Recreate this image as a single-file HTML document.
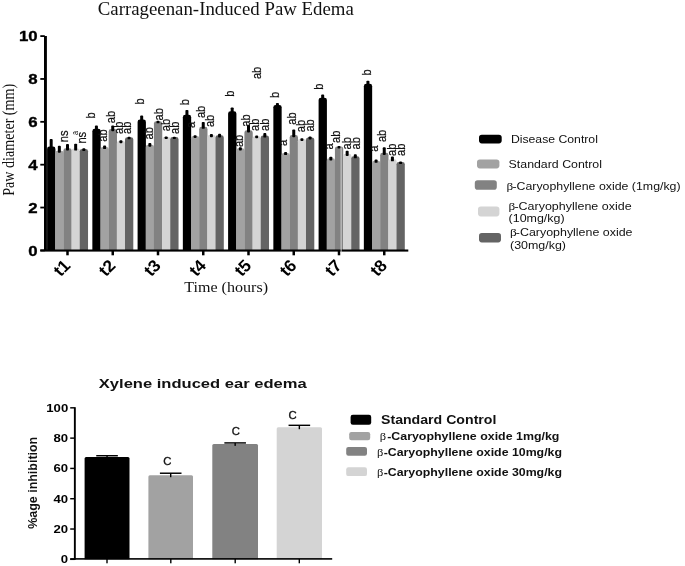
<!DOCTYPE html>
<html><head><meta charset="utf-8"><title>Chart</title>
<style>html,body{margin:0;padding:0;background:#fff;}body{width:685px;height:566px;overflow:hidden;font-family:"Liberation Sans",sans-serif;}</style>
</head><body>
<svg width="685" height="566" viewBox="0 0 685 566" style="display:block;filter:blur(0.45px)">
<rect x="0.00" y="0.00" width="685.00" height="566.00" fill="#fff"/>
<path d="M47.10 250.10 V148.99 Q47.10 146.59 49.50 146.59 H53.01 Q55.41 146.59 55.41 148.99 V250.10 Z" fill="#000000"/>
<path d="M55.26 250.10 V153.05 Q55.26 150.65 57.66 150.65 H61.17 Q63.57 150.65 63.57 153.05 V250.10 Z" fill="#a2a2a2"/>
<path d="M63.42 250.10 V150.70 Q63.42 148.30 65.82 148.30 H69.33 Q71.73 148.30 71.73 150.70 V250.10 Z" fill="#828282"/>
<path d="M71.58 250.10 V150.91 Q71.58 148.51 73.98 148.51 H77.49 Q79.89 148.51 79.89 150.91 V250.10 Z" fill="#d4d4d4"/>
<path d="M79.74 250.10 V151.34 Q79.74 148.94 82.14 148.94 H85.65 Q88.05 148.94 88.05 151.34 V250.10 Z" fill="#646464"/>
<rect x="49.68" y="138.99" width="3.00" height="9.70" rx="0.9" fill="#000"/>
<rect x="57.84" y="145.83" width="3.00" height="6.92" rx="0.9" fill="#000"/>
<rect x="66.00" y="144.12" width="3.00" height="6.28" rx="0.9" fill="#000"/>
<rect x="74.16" y="143.69" width="3.00" height="6.92" rx="0.9" fill="#000"/>
<rect x="82.32" y="148.17" width="3.00" height="2.87" rx="0.9" fill="#000"/>
<path d="M92.35 250.10 V131.27 Q92.35 128.87 94.75 128.87 H98.26 Q100.66 128.87 100.66 131.27 V250.10 Z" fill="#000000"/>
<path d="M100.51 250.10 V149.42 Q100.51 147.02 102.91 147.02 H106.42 Q108.82 147.02 108.82 149.42 V250.10 Z" fill="#a2a2a2"/>
<path d="M108.67 250.10 V131.49 Q108.67 129.09 111.07 129.09 H114.58 Q116.98 129.09 116.98 131.49 V250.10 Z" fill="#828282"/>
<path d="M116.83 250.10 V143.44 Q116.83 141.04 119.23 141.04 H122.74 Q125.14 141.04 125.14 143.44 V250.10 Z" fill="#d4d4d4"/>
<path d="M124.99 250.10 V139.60 Q124.99 137.20 127.39 137.20 H130.90 Q133.30 137.20 133.30 139.60 V250.10 Z" fill="#646464"/>
<rect x="94.93" y="125.54" width="3.00" height="5.43" rx="0.9" fill="#000"/>
<rect x="103.09" y="145.61" width="3.00" height="3.51" rx="0.9" fill="#000"/>
<rect x="111.25" y="125.54" width="3.00" height="5.64" rx="0.9" fill="#000"/>
<rect x="119.41" y="140.27" width="3.00" height="2.87" rx="0.9" fill="#000"/>
<rect x="127.57" y="136.86" width="3.00" height="2.44" rx="0.9" fill="#000"/>
<path d="M137.60 250.10 V121.88 Q137.60 119.48 140.00 119.48 H143.51 Q145.91 119.48 145.91 121.88 V250.10 Z" fill="#000000"/>
<path d="M145.76 250.10 V147.07 Q145.76 144.67 148.16 144.67 H151.67 Q154.07 144.67 154.07 147.07 V250.10 Z" fill="#a2a2a2"/>
<path d="M153.92 250.10 V123.59 Q153.92 121.19 156.32 121.19 H159.83 Q162.23 121.19 162.23 123.59 V250.10 Z" fill="#828282"/>
<path d="M162.08 250.10 V139.39 Q162.08 136.99 164.48 136.99 H167.99 Q170.39 136.99 170.39 139.39 V250.10 Z" fill="#d4d4d4"/>
<path d="M170.24 250.10 V139.39 Q170.24 136.99 172.64 136.99 H176.15 Q178.55 136.99 178.55 139.39 V250.10 Z" fill="#646464"/>
<rect x="140.18" y="115.51" width="3.00" height="6.07" rx="0.9" fill="#000"/>
<rect x="148.34" y="143.05" width="3.00" height="3.72" rx="0.9" fill="#000"/>
<rect x="156.50" y="120.85" width="3.00" height="2.44" rx="0.9" fill="#000"/>
<rect x="164.66" y="136.43" width="3.00" height="2.65" rx="0.9" fill="#000"/>
<rect x="172.82" y="136.64" width="3.00" height="2.44" rx="0.9" fill="#000"/>
<path d="M182.85 250.10 V117.18 Q182.85 114.78 185.25 114.78 H188.76 Q191.16 114.78 191.16 117.18 V250.10 Z" fill="#000000"/>
<path d="M191.01 250.10 V138.32 Q191.01 135.92 193.41 135.92 H196.92 Q199.32 135.92 199.32 138.32 V250.10 Z" fill="#a2a2a2"/>
<path d="M199.17 250.10 V129.14 Q199.17 126.74 201.57 126.74 H205.08 Q207.48 126.74 207.48 129.14 V250.10 Z" fill="#828282"/>
<path d="M207.33 250.10 V137.46 Q207.33 135.06 209.73 135.06 H213.24 Q215.64 135.06 215.64 137.46 V250.10 Z" fill="#d4d4d4"/>
<path d="M215.49 250.10 V137.68 Q215.49 135.28 217.89 135.28 H221.40 Q223.80 135.28 223.80 137.68 V250.10 Z" fill="#646464"/>
<rect x="185.43" y="109.96" width="3.00" height="6.92" rx="0.9" fill="#000"/>
<rect x="193.59" y="135.15" width="3.00" height="2.87" rx="0.9" fill="#000"/>
<rect x="201.75" y="121.91" width="3.00" height="6.92" rx="0.9" fill="#000"/>
<rect x="209.91" y="134.08" width="3.00" height="3.08" rx="0.9" fill="#000"/>
<rect x="218.07" y="133.87" width="3.00" height="3.51" rx="0.9" fill="#000"/>
<path d="M228.10 250.10 V113.77 Q228.10 111.37 230.50 111.37 H234.01 Q236.41 111.37 236.41 113.77 V250.10 Z" fill="#000000"/>
<path d="M236.26 250.10 V150.70 Q236.26 148.30 238.66 148.30 H242.17 Q244.57 148.30 244.57 150.70 V250.10 Z" fill="#a2a2a2"/>
<path d="M244.42 250.10 V132.77 Q244.42 130.37 246.82 130.37 H250.33 Q252.73 130.37 252.73 132.77 V250.10 Z" fill="#828282"/>
<path d="M252.58 250.10 V138.53 Q252.58 136.13 254.98 136.13 H258.49 Q260.89 136.13 260.89 138.53 V250.10 Z" fill="#d4d4d4"/>
<path d="M260.74 250.10 V137.89 Q260.74 135.49 263.14 135.49 H266.65 Q269.05 135.49 269.05 137.89 V250.10 Z" fill="#646464"/>
<rect x="230.68" y="107.40" width="3.00" height="6.07" rx="0.9" fill="#000"/>
<rect x="238.84" y="147.32" width="3.00" height="3.08" rx="0.9" fill="#000"/>
<rect x="247.00" y="124.69" width="3.00" height="7.78" rx="0.9" fill="#000"/>
<rect x="255.16" y="135.58" width="3.00" height="2.65" rx="0.9" fill="#000"/>
<rect x="263.32" y="133.02" width="3.00" height="4.58" rx="0.9" fill="#000"/>
<path d="M273.35 250.10 V107.36 Q273.35 104.96 275.75 104.96 H279.26 Q281.66 104.96 281.66 107.36 V250.10 Z" fill="#000000"/>
<path d="M281.51 250.10 V155.40 Q281.51 153.00 283.91 153.00 H287.42 Q289.82 153.00 289.82 155.40 V250.10 Z" fill="#a2a2a2"/>
<path d="M289.67 250.10 V137.46 Q289.67 135.06 292.07 135.06 H295.58 Q297.98 135.06 297.98 137.46 V250.10 Z" fill="#828282"/>
<path d="M297.83 250.10 V141.31 Q297.83 138.91 300.23 138.91 H303.74 Q306.14 138.91 306.14 141.31 V250.10 Z" fill="#d4d4d4"/>
<path d="M305.99 250.10 V139.81 Q305.99 137.41 308.39 137.41 H311.90 Q314.30 137.41 314.30 139.81 V250.10 Z" fill="#646464"/>
<rect x="275.93" y="102.91" width="3.00" height="4.15" rx="0.9" fill="#000"/>
<rect x="284.09" y="152.02" width="3.00" height="3.08" rx="0.9" fill="#000"/>
<rect x="292.25" y="129.60" width="3.00" height="7.56" rx="0.9" fill="#000"/>
<rect x="300.41" y="138.14" width="3.00" height="2.87" rx="0.9" fill="#000"/>
<rect x="308.57" y="136.43" width="3.00" height="3.08" rx="0.9" fill="#000"/>
<path d="M318.60 250.10 V100.10 Q318.60 97.70 321.00 97.70 H324.51 Q326.91 97.70 326.91 100.10 V250.10 Z" fill="#000000"/>
<path d="M326.76 250.10 V160.74 Q326.76 158.34 329.16 158.34 H332.67 Q335.07 158.34 335.07 160.74 V250.10 Z" fill="#a2a2a2"/>
<path d="M334.92 250.10 V148.78 Q334.92 146.38 337.32 146.38 H340.83 Q343.23 146.38 343.23 148.78 V250.10 Z" fill="#828282"/>
<path d="M343.08 250.10 V156.25 Q343.08 153.85 345.48 153.85 H348.99 Q351.39 153.85 351.39 156.25 V250.10 Z" fill="#d4d4d4"/>
<path d="M351.24 250.10 V158.60 Q351.24 156.20 353.64 156.20 H357.15 Q359.55 156.20 359.55 158.60 V250.10 Z" fill="#646464"/>
<rect x="321.18" y="94.59" width="3.00" height="5.22" rx="0.9" fill="#000"/>
<rect x="329.34" y="156.71" width="3.00" height="3.72" rx="0.9" fill="#000"/>
<rect x="337.50" y="146.04" width="3.00" height="2.44" rx="0.9" fill="#000"/>
<rect x="345.66" y="150.74" width="3.00" height="5.22" rx="0.9" fill="#000"/>
<rect x="353.82" y="154.15" width="3.00" height="4.15" rx="0.9" fill="#000"/>
<path d="M363.85 250.10 V86.22 Q363.85 83.82 366.25 83.82 H369.76 Q372.16 83.82 372.16 86.22 V250.10 Z" fill="#000000"/>
<path d="M372.01 250.10 V163.08 Q372.01 160.68 374.41 160.68 H377.92 Q380.32 160.68 380.32 163.08 V250.10 Z" fill="#a2a2a2"/>
<path d="M380.17 250.10 V155.18 Q380.17 152.78 382.57 152.78 H386.08 Q388.48 152.78 388.48 155.18 V250.10 Z" fill="#828282"/>
<path d="M388.33 250.10 V161.59 Q388.33 159.19 390.73 159.19 H394.24 Q396.64 159.19 396.64 161.59 V250.10 Z" fill="#d4d4d4"/>
<path d="M396.49 250.10 V164.37 Q396.49 161.97 398.89 161.97 H402.40 Q404.80 161.97 404.80 164.37 V250.10 Z" fill="#646464"/>
<rect x="366.43" y="80.71" width="3.00" height="5.22" rx="0.9" fill="#000"/>
<rect x="374.59" y="159.49" width="3.00" height="3.29" rx="0.9" fill="#000"/>
<rect x="382.75" y="147.32" width="3.00" height="7.56" rx="0.9" fill="#000"/>
<rect x="390.91" y="156.50" width="3.00" height="4.79" rx="0.9" fill="#000"/>
<rect x="399.07" y="161.62" width="3.00" height="2.44" rx="0.9" fill="#000"/>
<rect x="44.00" y="36.00" width="2.90" height="215.00" fill="#000"/>
<rect x="40.30" y="249.50" width="368.00" height="2.10" fill="#000"/>
<rect x="40.30" y="249.50" width="4.50" height="1.80" fill="#000"/>
<text transform="translate(37.7,255.50) scale(1.12,1)" font-family="Liberation Sans" font-size="15" font-weight="bold" text-anchor="end" fill="#000" stroke="#000" stroke-width="0.35">0</text>
<rect x="40.30" y="206.64" width="4.50" height="1.80" fill="#000"/>
<text transform="translate(37.7,212.64) scale(1.12,1)" font-family="Liberation Sans" font-size="15" font-weight="bold" text-anchor="end" fill="#000" stroke="#000" stroke-width="0.35">2</text>
<rect x="40.30" y="163.78" width="4.50" height="1.80" fill="#000"/>
<text transform="translate(37.7,169.78) scale(1.12,1)" font-family="Liberation Sans" font-size="15" font-weight="bold" text-anchor="end" fill="#000" stroke="#000" stroke-width="0.35">4</text>
<rect x="40.30" y="120.92" width="4.50" height="1.80" fill="#000"/>
<text transform="translate(37.7,126.92) scale(1.12,1)" font-family="Liberation Sans" font-size="15" font-weight="bold" text-anchor="end" fill="#000" stroke="#000" stroke-width="0.35">6</text>
<rect x="40.30" y="78.06" width="4.50" height="1.80" fill="#000"/>
<text transform="translate(37.7,84.06) scale(1.12,1)" font-family="Liberation Sans" font-size="15" font-weight="bold" text-anchor="end" fill="#000" stroke="#000" stroke-width="0.35">8</text>
<rect x="40.30" y="35.20" width="4.50" height="1.80" fill="#000"/>
<text transform="translate(37.7,41.20) scale(1.12,1)" font-family="Liberation Sans" font-size="15" font-weight="bold" text-anchor="end" fill="#000" stroke="#000" stroke-width="0.35">10</text>
<rect x="66.25" y="250.00" width="2.50" height="5.30" fill="#000"/>
<text transform="translate(71.4,266.6) scale(1.04,1) rotate(-45)" font-family="Liberation Sans" font-size="16.8" font-weight="bold" text-anchor="end" fill="#000">t1</text>
<rect x="111.50" y="250.00" width="2.50" height="5.30" fill="#000"/>
<text transform="translate(116.65,266.6) scale(1.04,1) rotate(-45)" font-family="Liberation Sans" font-size="16.8" font-weight="bold" text-anchor="end" fill="#000">t2</text>
<rect x="156.75" y="250.00" width="2.50" height="5.30" fill="#000"/>
<text transform="translate(161.9,266.6) scale(1.04,1) rotate(-45)" font-family="Liberation Sans" font-size="16.8" font-weight="bold" text-anchor="end" fill="#000">t3</text>
<rect x="202.00" y="250.00" width="2.50" height="5.30" fill="#000"/>
<text transform="translate(207.15,266.6) scale(1.04,1) rotate(-45)" font-family="Liberation Sans" font-size="16.8" font-weight="bold" text-anchor="end" fill="#000">t4</text>
<rect x="247.25" y="250.00" width="2.50" height="5.30" fill="#000"/>
<text transform="translate(252.4,266.6) scale(1.04,1) rotate(-45)" font-family="Liberation Sans" font-size="16.8" font-weight="bold" text-anchor="end" fill="#000">t5</text>
<rect x="292.50" y="250.00" width="2.50" height="5.30" fill="#000"/>
<text transform="translate(297.65,266.6) scale(1.04,1) rotate(-45)" font-family="Liberation Sans" font-size="16.8" font-weight="bold" text-anchor="end" fill="#000">t6</text>
<rect x="337.75" y="250.00" width="2.50" height="5.30" fill="#000"/>
<text transform="translate(342.9,266.6) scale(1.04,1) rotate(-45)" font-family="Liberation Sans" font-size="16.8" font-weight="bold" text-anchor="end" fill="#000">t7</text>
<rect x="383.00" y="250.00" width="2.50" height="5.30" fill="#000"/>
<text transform="translate(388.15,266.6) scale(1.04,1) rotate(-45)" font-family="Liberation Sans" font-size="16.8" font-weight="bold" text-anchor="end" fill="#000">t8</text>
<rect x="340.70" y="147.50" width="0.80" height="105.50" fill="#e6e6e6"/>
<text x="97.8" y="15.3" font-family="Liberation Serif" font-size="19.3" textLength="256" lengthAdjust="spacingAndGlyphs" fill="#111">Carrageenan-Induced Paw Edema</text>
<text x="184.2" y="292.2" font-family="Liberation Serif" font-size="15.3" textLength="83.8" lengthAdjust="spacingAndGlyphs" fill="#111">Time (hours)</text>
<text transform="translate(14.2,195.8) scale(1.0,1) rotate(-90)" font-family="Liberation Serif" font-size="16.5" textLength="112" lengthAdjust="spacingAndGlyphs" fill="#111">Paw diameter (mm)</text>
<text transform="translate(68.0,142.2) scale(1.18,1) rotate(-90)" font-family="Liberation Sans" font-size="11.2" fill="#111" stroke="#111" stroke-width="0.2">ns</text>
<text transform="translate(86.2,143.6) scale(1.18,1) rotate(-90)" font-family="Liberation Sans" font-size="11.2" fill="#111" stroke="#111" stroke-width="0.2">ns</text>
<text transform="translate(94.8,118.5) scale(1.18,1) rotate(-90)" font-family="Liberation Sans" font-size="11.2" fill="#111" stroke="#111" stroke-width="0.2">b</text>
<text transform="translate(107,141.7) scale(1.18,1) rotate(-90)" font-family="Liberation Sans" font-size="11.2" fill="#111" stroke="#111" stroke-width="0.2">ab</text>
<text transform="translate(115,123.3) scale(1.18,1) rotate(-90)" font-family="Liberation Sans" font-size="11.2" fill="#111" stroke="#111" stroke-width="0.2">ab</text>
<text transform="translate(123.2,133.9) scale(1.18,1) rotate(-90)" font-family="Liberation Sans" font-size="11.2" fill="#111" stroke="#111" stroke-width="0.2">ab</text>
<text transform="translate(131.2,133.9) scale(1.18,1) rotate(-90)" font-family="Liberation Sans" font-size="11.2" fill="#111" stroke="#111" stroke-width="0.2">ab</text>
<text transform="translate(144.3,104.5) scale(1.18,1) rotate(-90)" font-family="Liberation Sans" font-size="11.2" fill="#111" stroke="#111" stroke-width="0.2">b</text>
<text transform="translate(152.5,139.5) scale(1.18,1) rotate(-90)" font-family="Liberation Sans" font-size="11.2" fill="#111" stroke="#111" stroke-width="0.2">ab</text>
<text transform="translate(162.6,120.4) scale(1.18,1) rotate(-90)" font-family="Liberation Sans" font-size="11.2" fill="#111" stroke="#111" stroke-width="0.2">ab</text>
<text transform="translate(170,131.3) scale(1.18,1) rotate(-90)" font-family="Liberation Sans" font-size="11.2" fill="#111" stroke="#111" stroke-width="0.2">ab</text>
<text transform="translate(178.5,134.0) scale(1.18,1) rotate(-90)" font-family="Liberation Sans" font-size="11.2" fill="#111" stroke="#111" stroke-width="0.2">ab</text>
<text transform="translate(189.1,105.3) scale(1.18,1) rotate(-90)" font-family="Liberation Sans" font-size="11.2" fill="#111" stroke="#111" stroke-width="0.2">b</text>
<text transform="translate(195.4,128.1) scale(1.18,1) rotate(-90)" font-family="Liberation Sans" font-size="11.2" fill="#111" stroke="#111" stroke-width="0.2">a</text>
<text transform="translate(204.7,118.1) scale(1.18,1) rotate(-90)" font-family="Liberation Sans" font-size="11.2" fill="#111" stroke="#111" stroke-width="0.2">ab</text>
<text transform="translate(213.5,127.1) scale(1.18,1) rotate(-90)" font-family="Liberation Sans" font-size="11.2" fill="#111" stroke="#111" stroke-width="0.2">ab</text>
<text transform="translate(234,96.7) scale(1.18,1) rotate(-90)" font-family="Liberation Sans" font-size="11.2" fill="#111" stroke="#111" stroke-width="0.2">b</text>
<text transform="translate(261.2,79.1) scale(1.18,1) rotate(-90)" font-family="Liberation Sans" font-size="11.2" fill="#111" stroke="#111" stroke-width="0.2">ab</text>
<text transform="translate(243,147.1) scale(1.18,1) rotate(-90)" font-family="Liberation Sans" font-size="11.2" fill="#111" stroke="#111" stroke-width="0.2">ab</text>
<text transform="translate(249.5,126.7) scale(1.18,1) rotate(-90)" font-family="Liberation Sans" font-size="11.2" fill="#111" stroke="#111" stroke-width="0.2">ab</text>
<text transform="translate(258.6,131.0) scale(1.18,1) rotate(-90)" font-family="Liberation Sans" font-size="11.2" fill="#111" stroke="#111" stroke-width="0.2">ab</text>
<text transform="translate(268.5,131.0) scale(1.18,1) rotate(-90)" font-family="Liberation Sans" font-size="11.2" fill="#111" stroke="#111" stroke-width="0.2">ab</text>
<text transform="translate(279.2,98.0) scale(1.18,1) rotate(-90)" font-family="Liberation Sans" font-size="11.2" fill="#111" stroke="#111" stroke-width="0.2">b</text>
<text transform="translate(287.2,146.1) scale(1.18,1) rotate(-90)" font-family="Liberation Sans" font-size="11.2" fill="#111" stroke="#111" stroke-width="0.2">a</text>
<text transform="translate(295.5,124.7) scale(1.18,1) rotate(-90)" font-family="Liberation Sans" font-size="11.2" fill="#111" stroke="#111" stroke-width="0.2">ab</text>
<text transform="translate(304.5,132.2) scale(1.18,1) rotate(-90)" font-family="Liberation Sans" font-size="11.2" fill="#111" stroke="#111" stroke-width="0.2">ab</text>
<text transform="translate(314.2,131.6) scale(1.18,1) rotate(-90)" font-family="Liberation Sans" font-size="11.2" fill="#111" stroke="#111" stroke-width="0.2">ab</text>
<text transform="translate(323.3,89.7) scale(1.18,1) rotate(-90)" font-family="Liberation Sans" font-size="11.2" fill="#111" stroke="#111" stroke-width="0.2">b</text>
<text transform="translate(333,149.4) scale(1.18,1) rotate(-90)" font-family="Liberation Sans" font-size="11.2" fill="#111" stroke="#111" stroke-width="0.2">a</text>
<text transform="translate(340,143.0) scale(1.18,1) rotate(-90)" font-family="Liberation Sans" font-size="11.2" fill="#111" stroke="#111" stroke-width="0.2">ab</text>
<text transform="translate(351,149.4) scale(1.18,1) rotate(-90)" font-family="Liberation Sans" font-size="11.2" fill="#111" stroke="#111" stroke-width="0.2">ab</text>
<text transform="translate(360,149.4) scale(1.18,1) rotate(-90)" font-family="Liberation Sans" font-size="11.2" fill="#111" stroke="#111" stroke-width="0.2">ab</text>
<text transform="translate(370.8,75.5) scale(1.18,1) rotate(-90)" font-family="Liberation Sans" font-size="11.2" fill="#111" stroke="#111" stroke-width="0.2">b</text>
<text transform="translate(378.4,151.7) scale(1.18,1) rotate(-90)" font-family="Liberation Sans" font-size="11.2" fill="#111" stroke="#111" stroke-width="0.2">a</text>
<text transform="translate(385.8,142.1) scale(1.18,1) rotate(-90)" font-family="Liberation Sans" font-size="11.2" fill="#111" stroke="#111" stroke-width="0.2">ab</text>
<text transform="translate(395.5,155.9) scale(1.18,1) rotate(-90)" font-family="Liberation Sans" font-size="11.2" fill="#111" stroke="#111" stroke-width="0.2">ab</text>
<text transform="translate(405.3,155.9) scale(1.18,1) rotate(-90)" font-family="Liberation Sans" font-size="11.2" fill="#111" stroke="#111" stroke-width="0.2">ab</text>
<text transform="translate(78.0,134.9) scale(1.18,1) rotate(-90)" font-family="Liberation Sans" font-size="7.2" fill="#111">a</text>
<rect x="479.00" y="134.80" width="22.70" height="8.60" rx="2.8" fill="#000000"/>
<rect x="477.00" y="159.50" width="22.40" height="8.90" rx="2.8" fill="#a2a2a2"/>
<rect x="474.80" y="180.20" width="22.00" height="9.50" rx="2.8" fill="#828282"/>
<rect x="478.00" y="206.40" width="21.40" height="10.00" rx="2.8" fill="#d4d4d4"/>
<rect x="479.00" y="233.00" width="22.00" height="9.40" rx="2.8" fill="#646464"/>
<text x="510.9" y="143" font-family="Liberation Sans" font-size="11.4" textLength="87" lengthAdjust="spacingAndGlyphs" fill="#111">Disease Control</text>
<text x="508.6" y="168.3" font-family="Liberation Sans" font-size="11.4" textLength="93.4" lengthAdjust="spacingAndGlyphs" fill="#111">Standard Control</text>
<text transform="translate(506.6,189.6) scale(1.3,1)" font-family="Liberation Serif" font-size="10.2" fill="#111">β</text>
<text x="512.4" y="189.6" font-family="Liberation Sans" font-size="11.4" textLength="168.2" lengthAdjust="spacingAndGlyphs" fill="#111">-Caryophyllene oxide (1mg/kg)</text>
<text transform="translate(508.6,209.5) scale(1.3,1)" font-family="Liberation Serif" font-size="10.2" fill="#111">β</text>
<text x="514.4" y="209.5" font-family="Liberation Sans" font-size="11.4" textLength="117.2" lengthAdjust="spacingAndGlyphs" fill="#111">-Caryophyllene oxide</text>
<text x="508.6" y="221.9" font-family="Liberation Sans" font-size="11.4" textLength="56" lengthAdjust="spacingAndGlyphs" fill="#111">(10mg/kg)</text>
<text transform="translate(510,236.0) scale(1.3,1)" font-family="Liberation Serif" font-size="10.2" fill="#111">β</text>
<text x="515.8" y="236.0" font-family="Liberation Sans" font-size="11.4" textLength="116.7" lengthAdjust="spacingAndGlyphs" fill="#111">-Caryophyllene oxide</text>
<text x="510" y="248.7" font-family="Liberation Sans" font-size="11.4" textLength="56" lengthAdjust="spacingAndGlyphs" fill="#111">(30mg/kg)</text>
<path d="M84.60 559.30 V458.40 Q84.60 456.90 86.10 456.90 H128.00 Q129.50 456.90 129.50 458.40 V559.30 Z" fill="#000000"/>
<rect x="106.35" y="455.70" width="1.40" height="3.20" fill="#000"/>
<rect x="96.25" y="455.00" width="21.60" height="1.45" fill="#000"/>
<path d="M148.40 559.30 V476.70 Q148.40 475.20 149.90 475.20 H191.50 Q193.00 475.20 193.00 476.70 V559.30 Z" fill="#a2a2a2"/>
<rect x="170.00" y="473.20" width="1.40" height="4.00" fill="#000"/>
<rect x="159.90" y="472.50" width="21.60" height="1.45" fill="#000"/>
<path d="M212.30 559.30 V445.40 Q212.30 443.90 213.80 443.90 H256.50 Q258.00 443.90 258.00 445.40 V559.30 Z" fill="#828282"/>
<rect x="234.45" y="442.90" width="1.40" height="3.00" fill="#000"/>
<rect x="224.35" y="442.20" width="21.60" height="1.45" fill="#000"/>
<path d="M276.70 559.30 V428.70 Q276.70 427.20 278.20 427.20 H320.50 Q322.00 427.20 322.00 428.70 V559.30 Z" fill="#d4d4d4"/>
<rect x="298.65" y="425.30" width="1.40" height="3.90" fill="#000"/>
<rect x="288.55" y="424.60" width="21.60" height="1.45" fill="#000"/>
<rect x="73.90" y="407.20" width="1.90" height="152.60" fill="#000"/>
<rect x="70.20" y="558.10" width="262.00" height="1.60" fill="#000"/>
<rect x="70.20" y="558.60" width="4.50" height="1.45" fill="#000"/>
<text transform="translate(68.2,563.3) scale(1.22,1)" font-family="Liberation Sans" font-size="10.8" font-weight="bold" text-anchor="end" fill="#000">0</text>
<rect x="70.20" y="528.30" width="4.50" height="1.45" fill="#000"/>
<text transform="translate(68.2,533.0) scale(1.22,1)" font-family="Liberation Sans" font-size="10.8" font-weight="bold" text-anchor="end" fill="#000">20</text>
<rect x="70.20" y="498.00" width="4.50" height="1.45" fill="#000"/>
<text transform="translate(68.2,502.7) scale(1.22,1)" font-family="Liberation Sans" font-size="10.8" font-weight="bold" text-anchor="end" fill="#000">40</text>
<rect x="70.20" y="467.70" width="4.50" height="1.45" fill="#000"/>
<text transform="translate(68.2,472.4) scale(1.22,1)" font-family="Liberation Sans" font-size="10.8" font-weight="bold" text-anchor="end" fill="#000">60</text>
<rect x="70.20" y="437.40" width="4.50" height="1.45" fill="#000"/>
<text transform="translate(68.2,442.1) scale(1.22,1)" font-family="Liberation Sans" font-size="10.8" font-weight="bold" text-anchor="end" fill="#000">80</text>
<rect x="70.20" y="407.10" width="4.50" height="1.45" fill="#000"/>
<text transform="translate(68.2,411.8) scale(1.22,1)" font-family="Liberation Sans" font-size="10.8" font-weight="bold" text-anchor="end" fill="#000">100</text>
<rect x="106.30" y="559.00" width="1.40" height="4.30" fill="#000"/>
<rect x="170.10" y="559.00" width="1.40" height="4.30" fill="#000"/>
<rect x="234.50" y="559.00" width="1.40" height="4.30" fill="#000"/>
<rect x="298.60" y="559.00" width="1.40" height="4.30" fill="#000"/>
<text transform="translate(167.3,465.3) scale(1.1,1)" font-family="Liberation Sans" font-size="10.3" text-anchor="middle" fill="#111" stroke="#111" stroke-width="0.3">C</text>
<text transform="translate(235.8,435.1) scale(1.1,1)" font-family="Liberation Sans" font-size="10.3" text-anchor="middle" fill="#111" stroke="#111" stroke-width="0.3">C</text>
<text transform="translate(292.5,418.9) scale(1.1,1)" font-family="Liberation Sans" font-size="10.3" text-anchor="middle" fill="#111" stroke="#111" stroke-width="0.3">C</text>
<text x="98.8" y="388.2" font-family="Liberation Sans" font-size="13.5" font-weight="bold" textLength="207.8" lengthAdjust="spacingAndGlyphs" fill="#111">Xylene induced ear edema</text>
<text transform="translate(37.3,528.8) scale(1.0,1) rotate(-90)" font-family="Liberation Sans" font-size="12" font-weight="bold" textLength="92" lengthAdjust="spacingAndGlyphs" fill="#111">%age inhibition</text>
<rect x="350.60" y="414.70" width="20.60" height="10.00" rx="2.2" fill="#000000"/>
<rect x="349.20" y="432.00" width="21.00" height="8.30" rx="2.2" fill="#a2a2a2"/>
<rect x="346.20" y="446.90" width="20.80" height="8.80" rx="2.2" fill="#828282"/>
<rect x="346.20" y="467.30" width="20.80" height="8.80" rx="2.2" fill="#d4d4d4"/>
<text x="381" y="423.6" font-family="Liberation Sans" font-size="12.6" font-weight="bold" textLength="115.4" lengthAdjust="spacingAndGlyphs" fill="#111">Standard Control</text>
<text transform="translate(379.8,440.4) scale(1.3,1)" font-family="Liberation Serif" font-size="9.6" fill="#111">β</text>
<text x="387.2" y="440.4" font-family="Liberation Sans" font-size="10.1" font-weight="bold" textLength="172.2" lengthAdjust="spacingAndGlyphs" fill="#111">-Caryophyllene oxide 1mg/kg</text>
<text transform="translate(376.9,455.7) scale(1.3,1)" font-family="Liberation Serif" font-size="9.6" fill="#111">β</text>
<text x="383.7" y="455.7" font-family="Liberation Sans" font-size="10.1" font-weight="bold" textLength="178.3" lengthAdjust="spacingAndGlyphs" fill="#111">-Caryophyllene oxide 10mg/kg</text>
<text transform="translate(376.9,475.8) scale(1.3,1)" font-family="Liberation Serif" font-size="9.6" fill="#111">β</text>
<text x="383.7" y="475.8" font-family="Liberation Sans" font-size="10.1" font-weight="bold" textLength="178.3" lengthAdjust="spacingAndGlyphs" fill="#111">-Caryophyllene oxide 30mg/kg</text>
</svg>
</body></html>
